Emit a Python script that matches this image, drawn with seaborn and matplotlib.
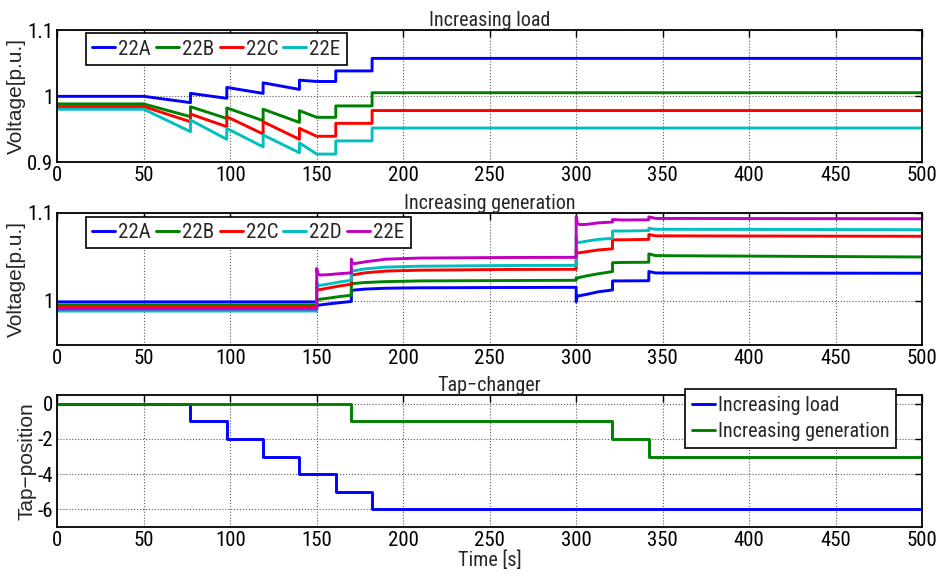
import numpy as np
import pandas as pd
import seaborn as sns
import matplotlib.pyplot as plt

# ---- data ----
# top panel: increasing load (breakpoints, jumps = repeated times)
load_t = [0, 50, 77, 77, 98, 98, 119, 119, 140, 140, 150, 161, 161, 182, 182, 500]
load_22A = [0.9995, 0.9995, 0.990, 1.004, 0.9965, 1.013, 1.004, 1.020, 1.010, 1.024, 1.022, 1.022, 1.038, 1.038, 1.057, 1.057]
load_22B = [0.988, 0.988, 0.9687, 0.9838, 0.966, 0.982, 0.9626, 0.980, 0.960, 0.9778, 0.9677, 0.9677, 0.985, 0.985, 1.005, 1.005]
load_22C = [0.984, 0.984, 0.961, 0.9727, 0.9535, 0.9687, 0.9424, 0.961, 0.9344, 0.951, 0.939, 0.939, 0.9586, 0.9586, 0.978, 0.978]
load_22E = [0.980, 0.980, 0.946, 0.9636, 0.9344, 0.951, 0.923, 0.941, 0.914, 0.929, 0.912, 0.912, 0.932, 0.932, 0.9515, 0.9515]

# middle panel: increasing generation
gen_t = [0, 150, 150, 150.6, 152, 156, 163, 170, 170, 170.6, 172, 178, 190, 210, 260, 300,
         300, 300.6, 302, 306, 313, 321, 321, 327, 342, 342, 346, 500]
gen_22A = [0.999, 0.999, 0.9935, 0.995, 0.9955, 0.9965, 0.998, 0.9995, 1.0125, 1.012, 1.0125, 1.0135, 1.0145, 1.015, 1.0153, 1.0155,
           0.999, 1.0055, 1.006, 1.0075, 1.0105, 1.0125, 1.0228, 1.0228, 1.023, 1.0335, 1.0318, 1.0315]
gen_22B = [0.9955, 0.9955, 1.004, 1.0015, 1.002, 1.003, 1.005, 1.0065, 1.0205, 1.0195, 1.020, 1.021, 1.022, 1.0228, 1.0232, 1.0235,
           1.0265, 1.026, 1.0268, 1.0285, 1.031, 1.0334, 1.0435, 1.0438, 1.044, 1.0535, 1.0515, 1.050]
gen_22C = [0.9935, 0.9935, 1.016, 1.0125, 1.013, 1.0145, 1.017, 1.019, 1.031, 1.0295, 1.030, 1.032, 1.034, 1.035, 1.0358, 1.036,
           1.058, 1.0545, 1.0548, 1.056, 1.058, 1.0593, 1.0695, 1.0695, 1.070, 1.0755, 1.074, 1.0735]
gen_22D = [0.9886, 0.9886, 1.022, 1.0175, 1.0178, 1.019, 1.0215, 1.0235, 1.036, 1.034, 1.0345, 1.0365, 1.0385, 1.0395, 1.0403, 1.0405,
           1.072, 1.0665, 1.0665, 1.068, 1.070, 1.0712, 1.0795, 1.0795, 1.080, 1.0825, 1.0815, 1.081]
gen_22E = [0.991, 0.991, 1.037, 1.031, 1.0295, 1.0298, 1.031, 1.032, 1.0475, 1.043, 1.0425, 1.0445, 1.0475, 1.0488, 1.0494, 1.0496,
           1.096, 1.0885, 1.0868, 1.087, 1.0888, 1.0897, 1.0925, 1.092, 1.0922, 1.0955, 1.0938, 1.0934]

# bottom panel: tap positions (step changes)
tap_load_t = [0, 77, 98, 119, 140, 161, 182, 500]
tap_load = [0, -1, -2, -3, -4, -5, -6, -6]
tap_gen_t = [0, 170, 321, 342, 500]
tap_gen = [0, -1, -2, -3, -3]

blue, green, red = (0, 0, 1), (0, 0.5, 0), (1, 0, 0)
cyan, magenta = (0, 0.75, 0.75), (0.75, 0, 0.75)
load_colors = {'22A': blue, '22B': green, '22C': red, '22E': cyan}
gen_colors = {'22A': blue, '22B': green, '22C': red, '22D': cyan, '22E': magenta}

sns.set_style('white')
plt.rcParams['font.family'] = ['Roboto Condensed', 'Liberation Sans Narrow', 'Liberation Sans', 'DejaVu Sans']
plt.rcParams['axes.unicode_minus'] = False
plt.rcParams['xtick.direction'] = 'in'
plt.rcParams['ytick.direction'] = 'in'
plt.rcParams['xtick.top'] = True
plt.rcParams['ytick.right'] = True
plt.rcParams['xtick.major.size'] = 5
plt.rcParams['ytick.major.size'] = 5
plt.rcParams['xtick.major.pad'] = 3
plt.rcParams['ytick.major.pad'] = 3

m = len(load_t)
load_df = pd.DataFrame({'t': load_t * 4,
                        'v': load_22A + load_22B + load_22C + load_22E,
                        'bus': ['22A'] * m + ['22B'] * m + ['22C'] * m + ['22E'] * m})
n = len(gen_t)
gen_df = pd.DataFrame({'t': gen_t * 5,
                       'v': gen_22A + gen_22B + gen_22C + gen_22D + gen_22E,
                       'bus': ['22A'] * n + ['22B'] * n + ['22C'] * n + ['22D'] * n + ['22E'] * n})

fig = plt.figure(figsize=(9.41, 5.77), dpi=100)
left, width, height = 0.0609, 0.919, 0.2288
ax1 = fig.add_axes([left, 0.7192, width, height])
ax2 = fig.add_axes([left, 0.4021, width, height])
ax3 = fig.add_axes([left, 0.0867, width, height])

sns.lineplot(data=load_df, x='t', y='v', hue='bus', palette=load_colors, estimator=None,
             sort=False, linewidth=2.1, ax=ax1)
sns.lineplot(data=gen_df, x='t', y='v', hue='bus', palette=gen_colors, estimator=None,
             sort=False, linewidth=2.1, ax=ax2)
sns.lineplot(x=tap_load_t, y=tap_load, color=blue, drawstyle='steps-post',
             linewidth=2.1, label='Increasing load', ax=ax3)
sns.lineplot(x=tap_gen_t, y=tap_gen, color=green, drawstyle='steps-post',
             linewidth=2.1, label='Increasing generation', ax=ax3)

fs = 15
for ax in (ax1, ax2, ax3):
    ax.set_xlim(0, 500)
    ax.set_xticks(np.arange(0, 501, 50))
    ax.grid(True, linestyle=':', color='0.35', linewidth=0.8)
    ax.tick_params(labelsize=fs, width=1, colors='black')
    for s in ax.spines.values():
        s.set_linewidth(1.3)
        s.set_color('black')
    ax.set_xlabel('')

ax1.set_ylim(0.9, 1.1)
ax1.set_yticks([0.9, 1.0, 1.1])
ax1.set_yticklabels(['0.9', '1', '1.1'])
ax2.set_ylim(0.95, 1.1)
ax2.set_yticks([1.0, 1.1])
ax2.set_yticklabels(['1', '1.1'])
ax3.set_ylim(-7, 0.5)
ax3.set_yticks([-6, -4, -2, 0])

ax1.set_title('Increasing load', fontsize=14.5, pad=3)
ax2.set_title('Increasing generation', fontsize=14.5, pad=3)
ax3.set_title('Tap\u2212changer', fontsize=14.5, pad=3)
ylab_font = {'family': ['Liberation Sans', 'DejaVu Sans'], 'size': 15}
ax1.set_ylabel('Voltage[p.u.]', fontdict=ylab_font, labelpad=1)
ax2.set_ylabel('Voltage[p.u.]', fontdict=ylab_font, labelpad=1)
ax3.set_ylabel('Tap\u2212position', fontdict=ylab_font, labelpad=1)
ax3.set_xlabel('Time [s]', fontsize=14.5, labelpad=0)

leg_kw = dict(fontsize=15, frameon=True, fancybox=False, framealpha=1, edgecolor='black',
              borderpad=0.3, labelspacing=0.2, handlelength=1.1, handletextpad=0.15,
              columnspacing=0.25, borderaxespad=0)
h, l = ax1.get_legend_handles_labels()
lg = ax1.legend(h, l, ncol=4, loc='upper left', bbox_to_anchor=(0.0332, 0.975), **leg_kw)
lg.get_frame().set_linewidth(1.2)
h, l = ax2.get_legend_handles_labels()
lg = ax2.legend(h, l, ncol=5, loc='upper left', bbox_to_anchor=(0.0332, 0.972), **leg_kw)
lg.get_frame().set_linewidth(1.2)
h, l = ax3.get_legend_handles_labels()
leg_kw.update(fontsize=14.5, labelspacing=0.35, borderpad=0.35)
lg = ax3.legend(h, l, ncol=1, loc='upper right', bbox_to_anchor=(0.970, 1.043), **leg_kw)
lg.get_frame().set_linewidth(1.2)

fig.savefig('out.png', dpi=100)
